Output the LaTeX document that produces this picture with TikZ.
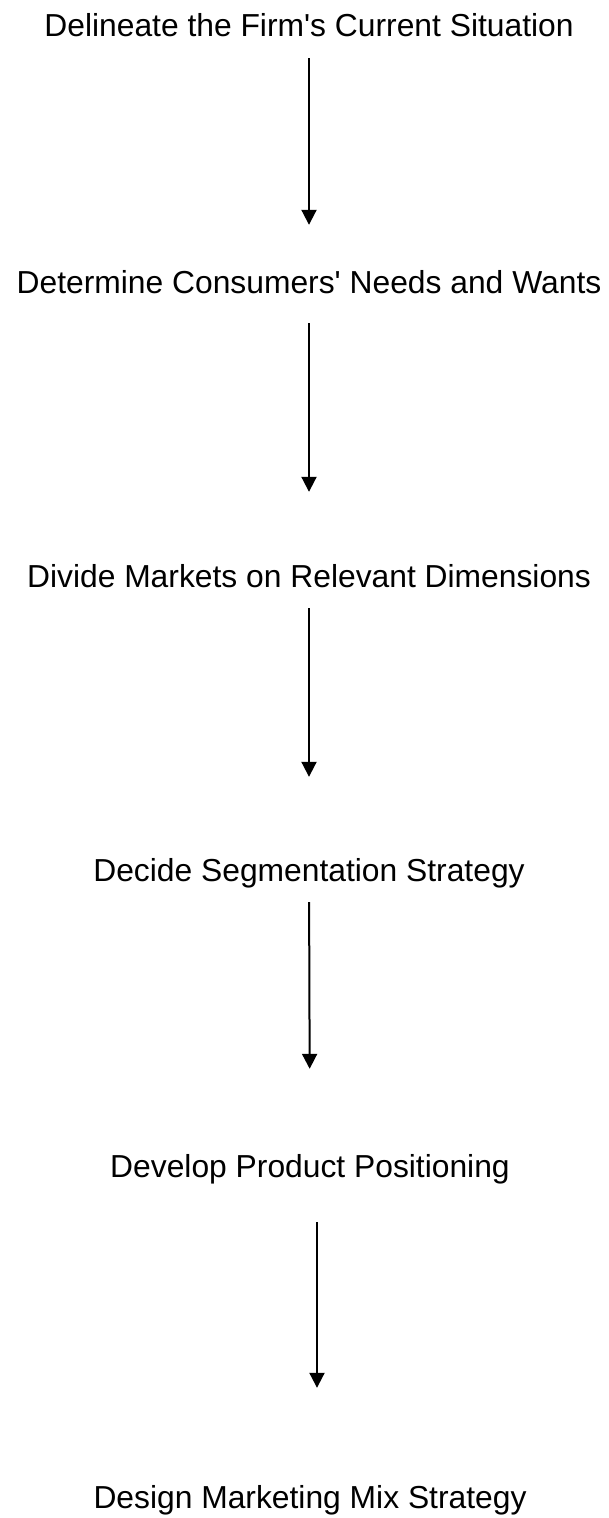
\documentclass[tikz,border=0pt]{standalone}
\usepackage{fontspec}
\setmainfont{Liberation Sans}
\usetikzlibrary{arrows.meta}
\tikzset{x=1pt, y=1pt,
    stage/.style={
        anchor=base,
        inner sep=0pt,
        text height=23pt,
        text depth=7pt,
        font=\fontsize{31.8}{38}\selectfont},
    flow/.style={
        draw,
        line width=2pt,
        -{Triangle[width=15pt,length=15pt]}}}
\begin{document}
\begin{tikzpicture}
        \useasboundingbox (0,0) rectangle (609,-1518);

        \node[stage] (firm) at (309,-36) {Delineate the Firm\textquotesingle s Current Situation};
        \node[stage] (needs) at (309,-293) {Determine Consumers\textquotesingle{} Needs and Wants};
        \node[stage] (divide) at (309,-587) {Divide Markets on Relevant Dimensions};
        \node[stage] (segment) at (309,-881) {Decide Segmentation Strategy};
        \node[stage] (position) at (310,-1177) {Develop Product Positioning};
        \node[stage] (mix) at (310,-1508) {Design Marketing Mix Strategy};

        \draw[flow, shorten <=15pt, shorten >=45pt] (firm) -- (needs);
        \draw[flow, shorten <=23pt, shorten >=72pt] (needs) -- (divide);
        \draw[flow, shorten <=14pt, shorten >=81pt] (divide) -- (segment);
        \draw[flow, shorten <=14pt, shorten >=85pt] (segment) -- (position);
        \draw[flow, shorten <=38pt, shorten >=97pt] ([xshift=7pt]position.south) -- ([xshift=7pt]mix.north);
    \end{tikzpicture}
\end{document}
